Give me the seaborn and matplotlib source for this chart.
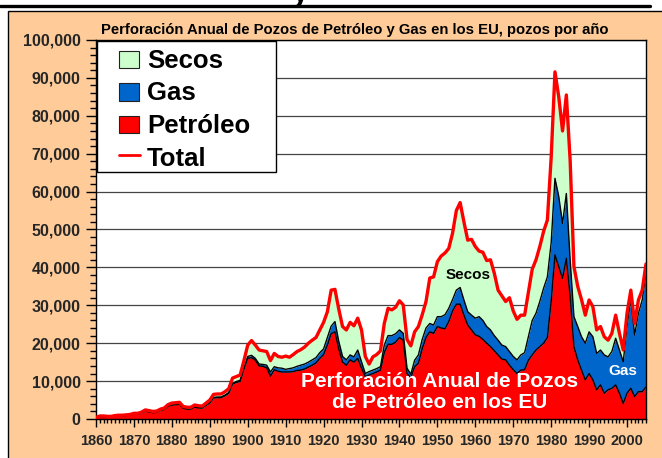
import matplotlib
matplotlib.use("Agg")
import matplotlib.pyplot as plt
import pandas as pd
import seaborn as sns
from matplotlib.patches import Rectangle
from matplotlib.lines import Line2D

# Wells drilled per year in the US, by result
years = list(range(1860, 2006))
petroleo = [
    300, 650, 650, 600, 600, 800, 850, 850, 950, 1050,
    1300, 1300, 1550, 2100, 1900, 1700, 1800, 2250, 2550, 3350,
    3700, 3800, 3900, 2850, 2650, 2650, 3150, 2950, 2900, 3600,
    4250, 5550, 5650, 5650, 6150, 6800, 9250, 9650, 9950, 13200,
    16000, 16200, 15500, 14000, 13900, 13500, 11300, 13000, 12600, 12400,
    12400, 12400, 12500, 12800, 12900, 13200, 13700, 14200, 14800, 16000,
    17000, 19500, 22500, 23000, 18500, 15000, 14200, 15600, 15000, 16000,
    13400, 11200, 11600, 12000, 12400, 12900, 17500, 19700, 19700, 20300,
    21500, 20800, 12000, 10900, 13800, 14700, 18500, 21500, 23000, 22600,
    24400, 24000, 23800, 25700, 28500, 30300, 30300, 27400, 24800, 23500,
    22200, 21800, 21000, 20000, 19100, 18000, 16900, 15800, 15600, 14200,
    13000, 12000, 12900, 13000, 15500, 16900, 18200, 19100, 20000, 21500,
    31000, 43300, 40200, 37100, 42400, 32500, 19100, 15600, 12900, 10300,
    12000, 10300, 7700, 9000, 6800, 7700, 8100, 9000, 6800, 4100,
    6800, 8100, 5900, 7200, 7200, 8500,
]
gas = [
    0, 0, 0, 0, 0, 0, 0, 0, 0, 0,
    0, 0, 0, 0, 0, 0, 0, 0, 0, 0,
    0, 0, 0, 0, 0, 0, 50, 50, 50, 100,
    150, 150, 150, 150, 150, 200, 250, 250, 250, 300,
    500, 600, 500, 500, 500, 700, 1100, 800, 900, 1000,
    700, 900, 1000, 1100, 1300, 1300, 1300, 1400, 1400, 1500,
    1500, 2000, 2000, 2700, 2000, 1500, 1400, 1300, 1400, 2200,
    1700, 800, 900, 900, 900, 900, 2000, 2300, 2300, 2200,
    2000, 1800, 1400, 900, 1700, 2200, 2500, 2500, 2200, 2200,
    2600, 3000, 3700, 3500, 3000, 3700, 4400, 4000, 3500, 3900,
    4400, 5200, 5000, 4400, 4400, 4000, 3900, 3700, 3500, 3600,
    3500, 3600, 4000, 4500, 6200, 9100, 9700, 11900, 14500, 16000,
    15500, 20200, 18500, 14500, 17100, 9500, 7900, 8800, 8800, 9700,
    11000, 11400, 9600, 9200, 10100, 8700, 9700, 12300, 11400, 11000,
    17600, 23700, 16300, 20700, 24200, 29900,
]
secos = [
    100, 150, 150, 100, 100, 100, 150, 150, 150, 150,
    200, 200, 250, 300, 300, 300, 300, 350, 350, 450,
    500, 500, 500, 450, 450, 450, 500, 500, 450, 500,
    600, 800, 800, 800, 900, 1000, 1300, 1300, 1400, 1900,
    3000, 3900, 3500, 3700, 3600, 3600, 3000, 3500, 3000, 2900,
    3500, 3000, 3500, 3900, 4100, 4500, 5000, 5200, 5300, 6000,
    7000, 6800, 9500, 8500, 8500, 7900, 7900, 8600, 8200, 8400,
    8400, 4500, 2000, 3500, 3700, 4200, 5700, 7200, 6800, 7000,
    7700, 7500, 7600, 7500, 7500, 7500, 6500, 7000, 12000, 12700,
    14500, 16000, 16300, 15800, 17500, 21000, 22400, 20600, 18900, 20000,
    18900, 17300, 18000, 17400, 18500, 16500, 13200, 13000, 11900, 14200,
    12000, 10700, 10500, 9900, 11800, 13500, 14100, 14500, 15000, 15000,
    22500, 28100, 26300, 24400, 26000, 26300, 13200, 10600, 9800, 7400,
    8400, 7900, 6200, 6200, 4800, 4400, 4800, 6100, 4400, 3100,
    3500, 2200, 3000, 3500, 2600, 2500,
]

decade_ticks = list(range(1860, 2001, 10))
decade_labels = [str(y) for y in decade_ticks]
value_ticks = list(range(0, 100001, 10000))
value_labels = [f"{v:,}" for v in value_ticks]

series_labels = ["Secos", "Gas", "Petróleo", "Total"]
series_colors = ["#CCFFCC", "#0066CC", "#FF0000", "#FF0000"]
chart_title = "Perforación Anual de Pozos de Petróleo y Gas en los EU, pozos por año"
area_label_dry = "Secos"
area_label_gas = "Gas"
area_label_oil = "Perforación Anual de Pozos\nde Petróleo en los EU"

sns.set_theme(style="white")
plt.rcParams["font.family"] = ["Liberation Sans", "DejaVu Sans"]

df = pd.DataFrame({"year": years, "petroleo": petroleo, "gas": gas, "secos": secos})
df["oil_gas"] = df["petroleo"] + df["gas"]
df["total"] = df["oil_gas"] + df["secos"]

W, H = 662, 458
fig = plt.figure(figsize=(W / 100, H / 100), dpi=100)
fig.patch.set_facecolor("white")


def fx(px):
    return px / W


def fy(py):
    return 1 - py / H


# peach backdrop panel and heavy rule above it
fig.add_artist(Rectangle((fx(8), -0.1), 1.2, fy(11) + 0.1, transform=fig.transFigure,
                         facecolor="#FFCC99", edgecolor="black", lw=1, zorder=-5))
fig.add_artist(Line2D([0, fx(650)], [fy(5.5), fy(5.5)], transform=fig.transFigure,
                      color="black", lw=2.4, zorder=-4))
fig.text(fx(300), fy(1), "y", fontsize=22, fontweight="bold", ha="center",
         va="baseline", color="black")

ax = fig.add_axes([fx(96), fy(419), (646 - 96) / W, (419 - 40) / H])
ax.set_facecolor("white")

ax.fill_between(df["year"], 0, df["petroleo"], color=series_colors[2], lw=0, zorder=1)
ax.fill_between(df["year"], df["petroleo"], df["oil_gas"], color=series_colors[1], lw=0, zorder=1)
ax.fill_between(df["year"], df["oil_gas"], df["total"], color=series_colors[0], lw=0, zorder=1)

sns.lineplot(data=df, x="year", y="petroleo", color="black", lw=1.0, ax=ax, zorder=2)
sns.lineplot(data=df, x="year", y="oil_gas", color="black", lw=1.0, ax=ax, zorder=2)
sns.lineplot(data=df, x="year", y="total", color=series_colors[3], lw=2.4, ax=ax, zorder=3)

ax.set_xlim(1860, 2005)
ax.set_ylim(0, 100000)
ax.set_xlabel("")
ax.set_ylabel("")

ax.set_xticks(decade_ticks)
ax.set_xticklabels(decade_labels, fontsize=10.5, fontweight="bold")
ax.set_xticks(years, minor=True)
ax.set_yticks(value_ticks)
ax.set_yticklabels(value_labels, fontsize=11.5, fontweight="bold")
ax.set_yticks(list(range(0, 100001, 2000)), minor=True)
ax.tick_params(axis="both", which="both", direction="out", color="black", width=1)
ax.tick_params(axis="y", which="major", length=7, pad=4, left=True)
ax.tick_params(axis="y", which="minor", length=4, left=True)
ax.tick_params(axis="x", which="major", length=6, pad=5, bottom=True)
ax.tick_params(axis="x", which="minor", length=3, bottom=True)

ax.set_axisbelow(True)
ax.yaxis.grid(True, color="#444444", lw=0.9, zorder=0.5)
ax.xaxis.grid(False)
for sp in ax.spines.values():
    sp.set_visible(True)
    sp.set_color("black")
    sp.set_linewidth(1)

ax.text(1958.2, 38000, area_label_dry, ha="center", va="center", fontsize=11,
        fontweight="bold", color="black", zorder=6)
ax.text(1998.8, 12700, area_label_gas, ha="center", va="center", fontsize=11,
        fontweight="bold", color="white", zorder=6)
ax.text(1950.5, 7100, area_label_oil, ha="center", va="center", fontsize=15,
        fontweight="bold", color="white", linespacing=1.15, zorder=6)

fig.text(fx(354.5), fy(34), chart_title, ha="center", va="baseline", fontsize=10.7,
         fontweight="bold", color="black")

# legend box
fig.add_artist(Rectangle((fx(97), fy(172)), (276 - 97) / W, (172 - 41) / H,
                         transform=fig.transFigure, facecolor="white",
                         edgecolor="black", lw=1, zorder=5))
rows = [51, 83.5, 116, 155.5]
for i, lab in enumerate(series_labels):
    top = rows[i]
    if lab == "Total":
        fig.add_artist(Line2D([fx(119), fx(140)], [fy(top), fy(top)],
                              transform=fig.transFigure, color=series_colors[i],
                              lw=2, zorder=6))
        base = 166
    else:
        fig.add_artist(Rectangle((fx(119), fy(top + 17)), 20 / W, 17 / H,
                                 transform=fig.transFigure, facecolor=series_colors[i],
                                 edgecolor="#222222", lw=0.8, zorder=6))
        base = top + 17
    fig.text(fx(147), fy(base), lab, fontsize=18.5, fontweight="bold",
             ha="left", va="baseline", color="black", zorder=7)

fig.savefig("out.png", dpi=100)
